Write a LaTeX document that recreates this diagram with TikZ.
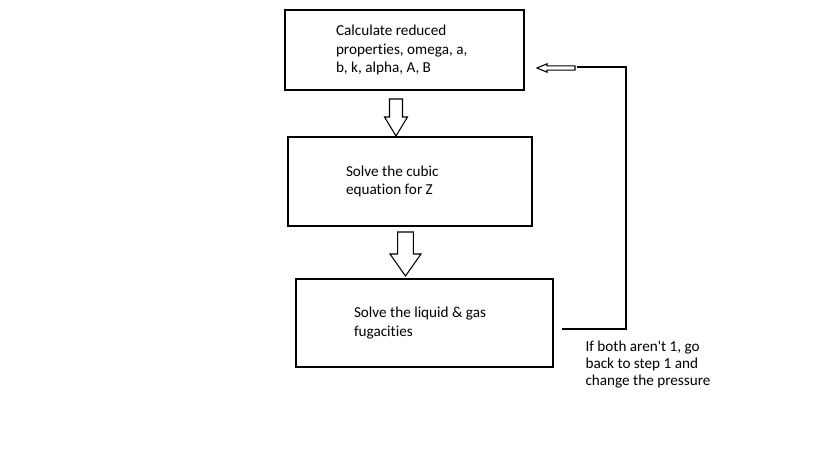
\documentclass[tikz,border=0pt]{standalone}
\usepackage{fontspec}
\setmainfont{Carlito}[Ligatures=NoCommon]
\begin{document}
\begin{tikzpicture}[x=0.02cm, y=-0.02cm, line width=0.6pt,
		stepbox/.style={draw, align=flush left, inner sep=0pt, font=\fontsize{8.65}{10.5}\selectfont},
		note/.style={align=left, inner sep=0pt, anchor=north west, font=\fontsize{8.65}{9.9}\selectfont}]
	\useasboundingbox (0,0) rectangle (816,460);
	% the three steps
	\node[stepbox, minimum width=4.78cm, minimum height=1.6cm, text width=2.74cm] (calc) at (404.5,50)
		{Calculate reduced\\properties, omega, a,\\b, k, alpha, A, B};
	\node[stepbox, minimum width=4.88cm, minimum height=1.78cm, text width=2.56cm] (cubic) at (410,181.5)
		{Solve the cubic\\equation for Z};
	\node[stepbox, minimum width=5.14cm, minimum height=1.76cm, text width=2.82cm] (fug) at (424.5,323)
		{Solve the liquid \& gas\\fugacities};
	\node[note] (back) at (585,340) {If both aren\textquotesingle t 1, go\\back to step 1 and\\change the pressure};
	% block arrows between the steps
	\draw (389.5,99) -- (402.5,99) -- (402.5,117) -- (407.5,117) -- (396,136) --
		(384.5,117) -- (389.5,117) -- cycle;
	\draw (397.7,232) -- (413.3,232) -- (413.3,254) -- (421,254) -- (405.5,276) --
		(390,254) -- (397.7,254) -- cycle;
	% loop back to the first step
	\coordinate (fbstart) at (562,329);
	\coordinate (fbcorner) at (626,329);
	\coordinate (fbtop) at (626,67);
	\coordinate (fbend) at (577,67);
	\draw (fbstart) -- (fbcorner) -- (fbtop) -- (fbend);
	\draw (537,68) -- (547,63.8) -- (547,65.8) -- (575,65.8) -- (575,70.2) --
		(547,70.2) -- (547,72.2) -- cycle;
\end{tikzpicture}
\end{document}
